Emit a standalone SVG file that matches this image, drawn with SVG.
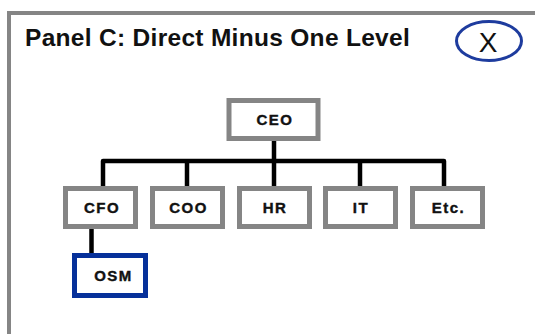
<svg xmlns="http://www.w3.org/2000/svg" width="535" height="334" viewBox="0 0 535 334">
<style>
.box{fill:#fff;stroke:#858585;stroke-width:5}
.sel{fill:#fff;stroke:#06309a;stroke-width:5}
.lbl{font-family:"Liberation Sans",Arial,sans-serif;font-weight:bold;font-size:15px;letter-spacing:1.5px;fill:#111;stroke:#111;stroke-width:0.4;text-anchor:middle}
.con{fill:none;stroke:#000;stroke-width:4.5;stroke-linejoin:round}
</style>
<rect x="0" y="0" width="535" height="334" fill="#fff"/>
<path d="M9,340 V13 H540" fill="none" stroke="#858585" stroke-width="4"/>
<text x="25" y="46" font-family="'Liberation Sans',Arial,sans-serif" font-weight="bold" font-size="24.5" letter-spacing="0.3" fill="#111">Panel C: Direct Minus One Level</text>
<g id="close">
<ellipse cx="489" cy="41" rx="32.5" ry="19.5" fill="#fff" stroke="#1e3c9e" stroke-width="3"/>
<text x="488" y="52" font-family="'Liberation Sans',Arial,sans-serif" font-size="28" fill="#111" text-anchor="middle">X</text>
</g>
<g id="connectors">
<path class="con" d="M274,140 V161"/>
<path class="con" d="M103,186 V161 H444 V186"/>
<path class="con" d="M187,161 V186"/>
<path class="con" d="M274,161 V186"/>
<path class="con" d="M360,161 V186"/>
<path class="con" d="M91.5,229 V254"/>
</g>
<g id="ceo"><rect class="box" x="229" y="100.5" width="89" height="38"/><text class="lbl" x="275" y="125">CEO</text></g>
<g id="cfo"><rect class="box" x="65.5" y="188.5" width="70" height="38"/><text class="lbl" x="102" y="213">CFO</text></g>
<g id="coo"><rect class="box" x="152.5" y="188.5" width="70" height="38"/><text class="lbl" x="188.5" y="213">COO</text></g>
<g id="hr"><rect class="box" x="239.5" y="188.5" width="70" height="38"/><text class="lbl" x="275" y="213">HR</text></g>
<g id="it"><rect class="box" x="325.5" y="188.5" width="70" height="38"/><text class="lbl" x="361" y="213">IT</text></g>
<g id="etc"><rect class="box" x="412.5" y="188.5" width="70" height="38"/><text class="lbl" x="448.5" y="213">Etc.</text></g>
<g id="osm"><rect class="sel" x="74.5" y="255.5" width="71" height="40"/><text class="lbl" x="113.5" y="281">OSM</text></g>
</svg>
